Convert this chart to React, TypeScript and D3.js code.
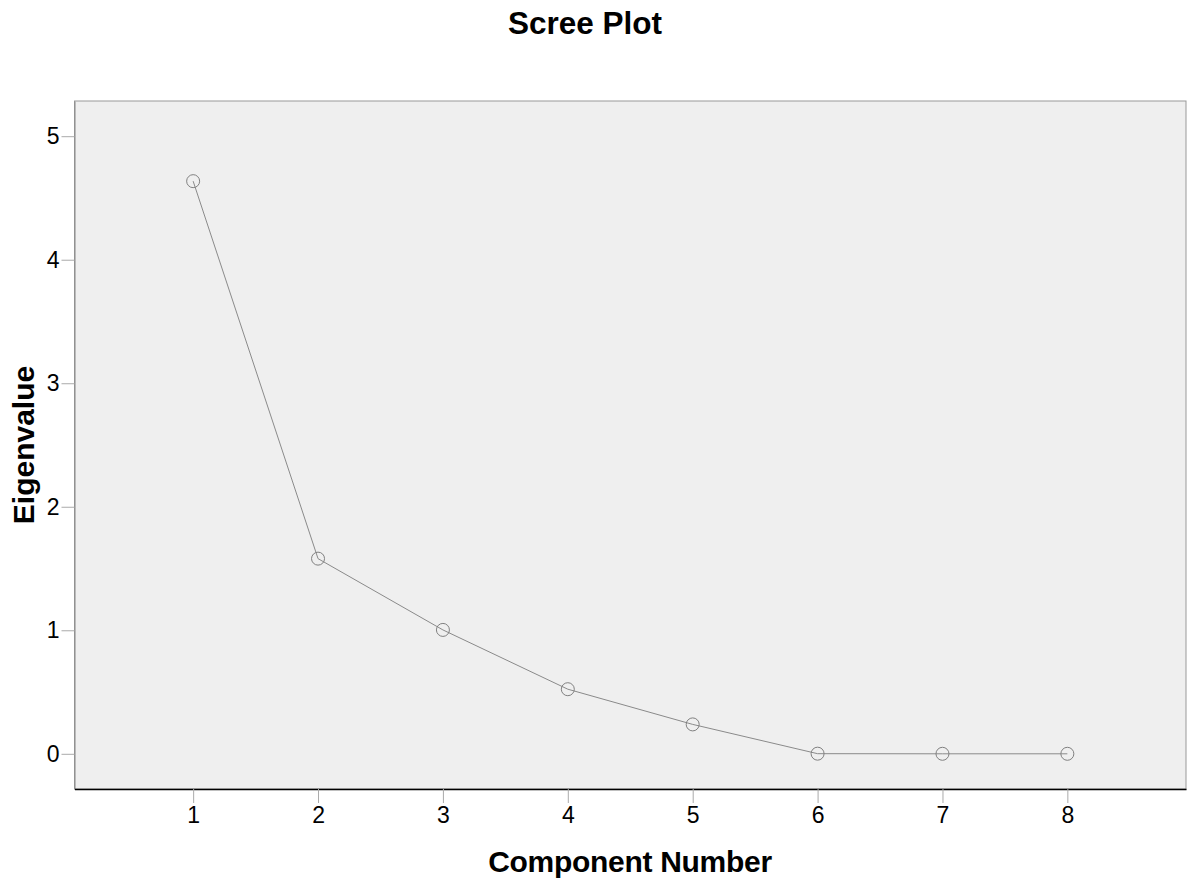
import { useRef, useEffect } from "react";
import * as d3 from "d3";

const components = [1, 2, 3, 4, 5, 6, 7, 8];
const eigenvalues = [4.636, 1.58, 1.003, 0.523, 0.238, 0.001, 0.0, 0.0];
const yTicks = [0, 1, 2, 3, 4, 5];

const W = 1193;
const H = 882;
const margin = { top: 101, right: 7, bottom: 93, left: 74.5 };
const FONT = "'Liberation Sans', Arial, sans-serif";

export default function App() {
  const svgRef = useRef<SVGSVGElement>(null);

  useEffect(() => {
    const svg = d3.select(svgRef.current);
    svg.selectAll("*").remove();

    const innerW = W - margin.left - margin.right;
    const innerH = H - margin.top - margin.bottom;

    const x = d3.scaleLinear().domain([0.05, 8.95]).range([0, innerW]);
    const y = d3.scaleLinear().domain([-0.285, 5.285]).range([innerH, 0]);

    // title
    svg.append("text")
      .attr("x", 585)
      .attr("y", 34)
      .attr("text-anchor", "middle")
      .style("font-family", FONT)
      .style("font-weight", "bold")
      .style("font-size", "31.5px")
      .text("Scree Plot");

    const g = svg.append("g").attr("transform", `translate(${margin.left},${margin.top})`);

    // plot background + frame
    g.append("rect")
      .attr("width", innerW)
      .attr("height", innerH)
      .attr("fill", "#efefef")
      .attr("stroke", "#999")
      .attr("stroke-width", 1);

    // y-axis
    const yAxis = g.append("g").call(
      d3.axisLeft(y).tickValues(yTicks).tickSizeInner(13).tickSizeOuter(0).tickPadding(2).tickFormat(d3.format("d"))
    );
    yAxis.select(".domain").attr("stroke", "#888");
    yAxis.selectAll(".tick line").attr("stroke", "#aaa");
    yAxis.selectAll(".tick text")
      .style("font-family", FONT)
      .style("font-size", "23px")
      .attr("fill", "#000");

    // x-axis
    const xAxis = g.append("g")
      .attr("transform", `translate(0,${innerH})`)
      .call(d3.axisBottom(x).tickValues(components).tickSizeInner(14).tickSizeOuter(0).tickPadding(4).tickFormat(d3.format("d")));
    xAxis.select(".domain").attr("stroke", "#000").attr("stroke-width", 1.5);
    xAxis.selectAll(".tick line").attr("stroke", "#aaa");
    xAxis.selectAll(".tick text")
      .style("font-family", FONT)
      .style("font-size", "23px")
      .attr("fill", "#000");

    // line
    const data = components.map((c, i) => ({ c, v: eigenvalues[i] }));
    g.append("path")
      .datum(data)
      .attr("fill", "none")
      .attr("stroke", "#8a8a8a")
      .attr("stroke-width", 1)
      .attr("d", d3.line<{ c: number; v: number }>().x((d) => x(d.c)).y((d) => y(d.v)));

    // markers
    g.selectAll(".pt")
      .data(data)
      .join("circle")
      .attr("class", "pt")
      .attr("cx", (d) => x(d.c))
      .attr("cy", (d) => y(d.v))
      .attr("r", 6.5)
      .attr("fill", "none")
      .attr("stroke", "#808080")
      .attr("stroke-width", 1);

    // axis labels
    svg.append("text")
      .attr("x", 630)
      .attr("y", 872)
      .attr("text-anchor", "middle")
      .style("font-family", FONT)
      .style("font-weight", "bold")
      .style("font-size", "30px")
      .style("letter-spacing", "-0.3px")
      .text("Component Number");

    svg.append("text")
      .attr("transform", "translate(34,445) rotate(-90)")
      .attr("text-anchor", "middle")
      .style("font-family", FONT)
      .style("font-weight", "bold")
      .style("font-size", "30px")
      .text("Eigenvalue");
  }, []);

  return (
    <svg
      ref={svgRef}
      width={W}
      height={H}
      style={{ position: "absolute", left: 0, top: 0, background: "#fff" }}
    />
  );
}
